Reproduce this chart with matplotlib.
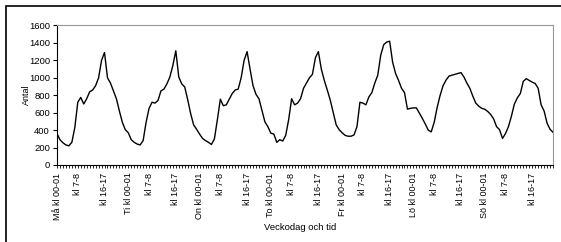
import matplotlib
matplotlib.use("Agg")
import matplotlib.pyplot as plt
from matplotlib.patches import Rectangle

days = ["Må", "Ti", "On", "To", "Fr", "Lö", "Sö"]

mon = [360, 290, 255, 230, 220, 260, 430, 720, 775, 700, 760, 840,
       860, 910, 1000, 1200, 1290, 1000, 940, 850, 760, 620, 490, 405]
tue = [370, 290, 260, 240, 230, 280, 490, 650, 720, 710, 740, 850,
       870, 930, 1010, 1140, 1310, 1010, 930, 895, 750, 590, 460, 410]
wed = [355, 305, 280, 260, 235, 300, 520, 755, 680, 690, 755, 820,
       860, 870, 1000, 1200, 1300, 1100, 910, 810, 760, 630, 495, 440]
thu = [365, 355, 260, 290, 275, 340, 520, 760, 690, 710, 760, 880,
       940, 1000, 1040, 1230, 1300, 1100, 970, 860, 745, 600, 460, 405]
fri = [370, 340, 330, 330, 345, 440, 720, 710, 690, 780, 830, 940,
       1030, 1260, 1380, 1410, 1420, 1180, 1050, 970, 880, 830, 640, 650]
sat = [655, 655, 595, 535, 470, 400, 380, 490, 660, 800, 910, 975,
       1020, 1030, 1040, 1050, 1060, 1010, 940, 880, 790, 710, 675, 650]
sun = [640, 615, 580, 530, 440, 405, 305, 360, 440, 560, 700, 770,
       820, 960, 990, 970, 950, 935, 880, 690, 620, 480, 410, 375]

values = mon + tue + wed + thu + fri + sat + sun

tick_labels = []
for d in days:
    for h in range(24):
        if h == 0:
            tick_labels.append(f"{d} kl 00-01")
        elif h == 7:
            tick_labels.append("kl 7-8")
        elif h == 16:
            tick_labels.append("kl 16-17")
        else:
            tick_labels.append("")

plt.rcParams['font.family'] = ['Liberation Sans', 'DejaVu Sans']

fig = plt.figure(figsize=(5.61, 2.42), dpi=100)
fig.patches.append(Rectangle((6/561, -0.1), 1.2, (242-6)/242 + 0.1,
                             transform=fig.transFigure, fill=False,
                             edgecolor='black', linewidth=1.2))

ax = fig.add_axes([57/561, (242-165)/242, (553-57)/561, (165-25.5)/242])
x = list(range(len(values)))
ax.plot(x, values, color='black', linewidth=1.0)

ax.set_xlim(0, len(values) - 1)
ax.set_ylim(0, 1600)
ax.set_yticks(range(0, 1601, 200))
ax.tick_params(axis='y', labelsize=6.8, length=3, width=0.8, pad=2)

ax.set_xticks(x)
ax.set_xticklabels(tick_labels, rotation=90, fontsize=6.5)
ax.tick_params(axis='x', length=2.5, width=0.6, pad=3)

for s in ['top', 'right']:
    ax.spines[s].set_color('#999999')
for s in ['left', 'bottom']:
    ax.spines[s].set_color('black')

fig.text(26/561, (242-95)/242, "Antal", rotation=90, ha='center', va='center', fontsize=6.5)
fig.text(300/561, (242-228)/242, "Veckodag och tid", ha='center', va='center', fontsize=6.8)

fig.savefig("out.png", dpi=100)
